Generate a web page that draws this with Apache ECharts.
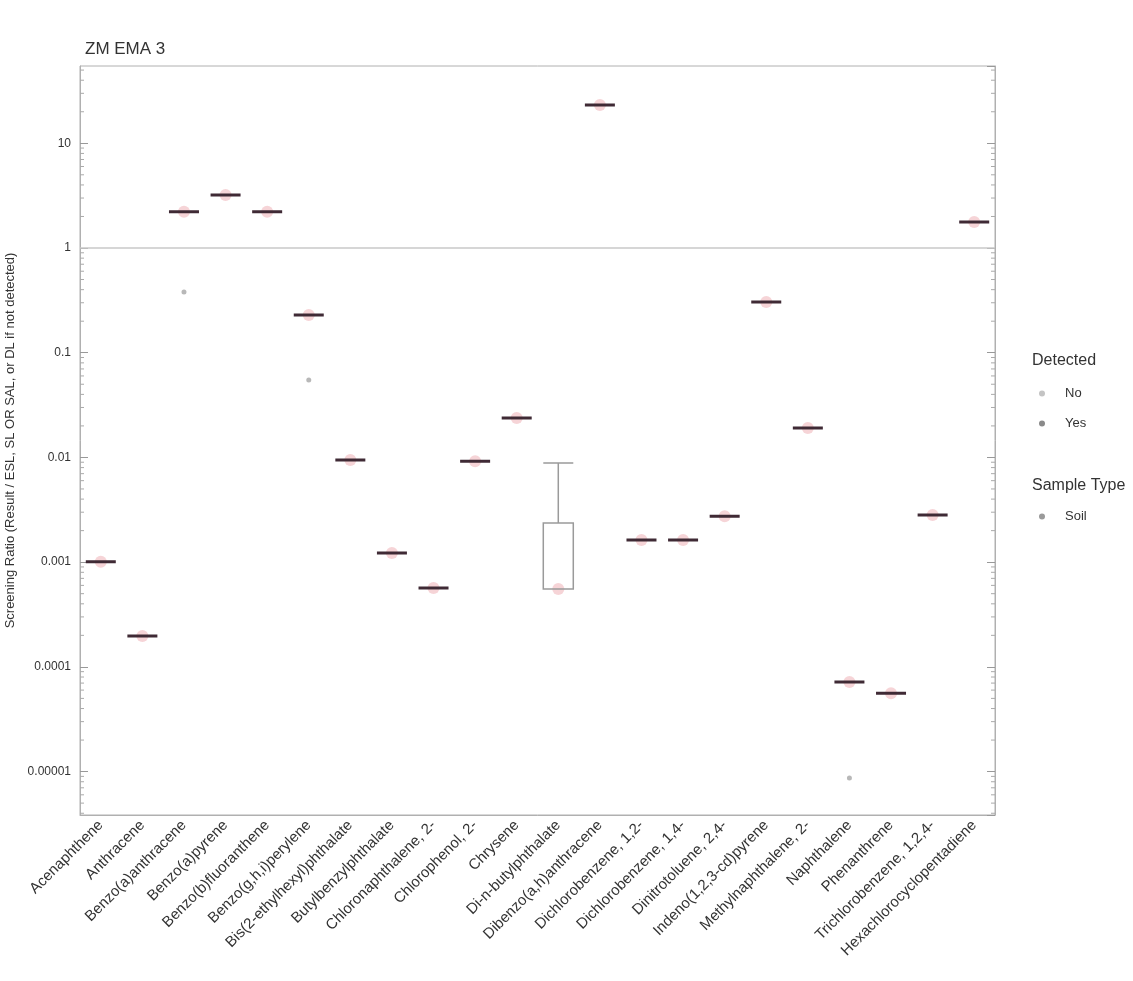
<!DOCTYPE html>
<html>
<head>
<meta charset="utf-8">
<script src="https://cdn.jsdelivr.net/npm/echarts@6/dist/echarts.min.js"></script>
<style>html,body{margin:0;padding:0;background:#fff}#c{width:1133px;height:981px}</style>
</head>
<body>
<div id="c"></div>
<script>
// ---- data ----
const titleText = 'ZM EMA 3';
const yAxisName = 'Screening Ratio (Result / ESL, SL OR SAL, or DL if not detected)';
const categories = [
  'Acenaphthene', 'Anthracene', 'Benzo(a)anthracene', 'Benzo(a)pyrene',
  'Benzo(b)fluoranthene', 'Benzo(g,h,i)perylene', 'Bis(2-ethylhexyl)phthalate',
  'Butylbenzylphthalate', 'Chloronaphthalene, 2-', 'Chlorophenol, 2-', 'Chrysene',
  'Di-n-butylphthalate', 'Dibenzo(a,h)anthracene', 'Dichlorobenzene, 1,2-',
  'Dichlorobenzene, 1,4-', 'Dinitrotoluene, 2,4-', 'Indeno(1,2,3-cd)pyrene',
  'Methylnaphthalene, 2-', 'Naphthalene', 'Phenanthrene',
  'Trichlorobenzene, 1,2,4-', 'Hexachlorocyclopentadiene'
];
// box statistics per category: [min, Q1, median, Q3, max]
const boxStats = [
  [0.00101, 0.00101, 0.00101, 0.00101, 0.00101],
  [0.000197, 0.000197, 0.000197, 0.000197, 0.000197],
  [2.22, 2.22, 2.22, 2.22, 2.22],
  [3.21, 3.21, 3.21, 3.21, 3.21],
  [2.22, 2.22, 2.22, 2.22, 2.22],
  [0.229, 0.229, 0.229, 0.229, 0.229],
  [0.00944, 0.00944, 0.00944, 0.00944, 0.00944],
  [0.00122, 0.00122, 0.00122, 0.00122, 0.00122],
  [0.000566, 0.000566, 0.000566, 0.000566, 0.000566],
  [0.0092, 0.0092, 0.0092, 0.0092, 0.0092],
  [0.0238, 0.0238, 0.0238, 0.0238, 0.0238],
  [0.000553, 0.000553, 0.000553, 0.00236, 0.00885],
  [23.2, 23.2, 23.2, 23.2, 23.2],
  [0.00163, 0.00163, 0.00163, 0.00163, 0.00163],
  [0.00163, 0.00163, 0.00163, 0.00163, 0.00163],
  [0.00275, 0.00275, 0.00275, 0.00275, 0.00275],
  [0.305, 0.305, 0.305, 0.305, 0.305],
  [0.0191, 0.0191, 0.0191, 0.0191, 0.0191],
  [0.0000716, 0.0000716, 0.0000716, 0.0000716, 0.0000716],
  [0.000056, 0.000056, 0.000056, 0.000056, 0.000056],
  [0.00282, 0.00282, 0.00282, 0.00282, 0.00282],
  [1.77, 1.77, 1.77, 1.77, 1.77]
];
// detected points: [categoryIndex, value]
const detectedYes = [
  [0, 0.00101], [1, 0.000197], [2, 2.22], [3, 3.21], [4, 2.22], [5, 0.229],
  [6, 0.00944], [7, 0.00122], [8, 0.000566], [9, 0.0092], [10, 0.0238],
  [11, 0.000553], [12, 23.2], [13, 0.00163],
  [14, 0.00163], [15, 0.00275], [16, 0.305], [17, 0.0191], [18, 0.0000716],
  [19, 0.000056], [20, 0.00282], [21, 1.77]
];
// non-detected points
const detectedNo = [[2, 0.38], [5, 0.055], [18, 0.0000087]];
const refValue = 1;
const yMin = 0.00000385, yMax = 54.7;
const minorMultipliers = [2, 3, 4, 5, 6, 7, 8, 9];

// ---- chart ----
const chart = echarts.init(document.getElementById('c'));
const FONT = 'Liberation Sans';
function fmtLog(v) {
  const l = Math.log10(v);
  if (Math.abs(l - Math.round(l)) > 1e-6) return '';
  const e = Math.round(l);
  if (e >= 0) return String(Math.pow(10, e));
  return '0.' + '0'.repeat(-e - 1) + '1';
}
const minorVals = [];
for (let e = -6; e <= 1; e++) {
  minorMultipliers.forEach(function (k) {
    const v = k * Math.pow(10, e);
    if (v > yMin && v < yMax) minorVals.push([0, v]);
  });
}
chart.setOption({
  animation: false,
  textStyle: { fontFamily: FONT },
  title: [
    { text: titleText, left: 80, top: 36, textStyle: { fontSize: 17, fontWeight: 'normal', color: '#333', fontFamily: FONT } },
    { text: 'Detected', left: 1027, top: 348, textStyle: { fontSize: 16, fontWeight: 'normal', color: '#333', fontFamily: FONT } },
    { text: 'Sample Type', left: 1027, top: 473, textStyle: { fontSize: 16, fontWeight: 'normal', color: '#333', fontFamily: FONT } }
  ],
  legend: [
    { data: [
        { name: 'No', icon: 'circle', itemStyle: { color: '#c4c4c4', opacity: 1 } },
        { name: 'Yes', icon: 'circle', itemStyle: { color: '#8a8a8a', opacity: 1 } }
      ],
      orient: 'vertical', left: 1034, top: 382, itemWidth: 36, itemHeight: 6, itemGap: 17,
      textStyle: { fontSize: 13, color: '#333', fontFamily: FONT } },
    { data: [{ name: 'Soil', icon: 'circle', itemStyle: { color: '#9a9a9a', opacity: 1, borderWidth: 0 } }],
      orient: 'vertical', left: 1034, top: 505, itemWidth: 36, itemHeight: 6,
      textStyle: { fontSize: 13, color: '#333', fontFamily: FONT } }
  ],
  grid: { show: true, borderColor: '#b0b0b0', borderWidth: 1, left: 80, right: 138, top: 66, bottom: 166, outerBoundsMode: 'none', containLabel: false },
  xAxis: {
    type: 'category', data: categories,
    axisLine: { lineStyle: { color: '#b0b0b0' } },
    axisTick: { show: false },
    axisLabel: { rotate: 45, fontSize: 15, color: '#333', margin: 8, interval: 0, fontFamily: FONT },
    splitLine: { show: false }
  },
  yAxis: [
    {
      type: 'log', logBase: 10, min: yMin, max: yMax,
      name: yAxisName, nameLocation: 'middle', nameGap: 60, nameRotate: 90,
      nameTextStyle: { fontSize: 13, color: '#333', fontFamily: FONT },
      axisLine: { show: true, lineStyle: { color: '#b0b0b0' } },
      axisTick: { show: true, inside: true, length: 8, lineStyle: { color: '#999' } },
      axisLabel: { formatter: fmtLog, fontSize: 12, color: '#333', margin: 9, showMinLabel: false, showMaxLabel: false, fontFamily: FONT },
      splitLine: { show: false }
    },
    {
      type: 'log', logBase: 10, min: yMin, max: yMax, position: 'right',
      axisLine: { show: true, lineStyle: { color: '#b0b0b0' } },
      axisTick: { show: true, inside: true, length: 8, lineStyle: { color: '#999' } },
      axisLabel: { show: false },
      splitLine: { show: false }
    }
  ],
  series: [
    {
      name: 'minor', type: 'custom', silent: true, data: minorVals, z: 1,
      renderItem: function (params, api) {
        const cs = params.coordSys;
        const y = api.coord([0, api.value(1)])[1];
        return {
          type: 'group', children: [
            { type: 'line', shape: { x1: cs.x, y1: y, x2: cs.x + 4, y2: y }, style: { stroke: '#aaa', lineWidth: 1 } },
            { type: 'line', shape: { x1: cs.x + cs.width - 4, y1: y, x2: cs.x + cs.width, y2: y }, style: { stroke: '#aaa', lineWidth: 1 } }
          ]
        };
      }
    },
    {
      name: 'Yes', type: 'scatter', data: detectedYes, symbolSize: 12, z: 2,
      itemStyle: { color: '#e0707a', opacity: 0.3 },
      markLine: {
        silent: true, symbol: 'none', label: { show: false },
        lineStyle: { color: '#c8c8c8', width: 1.5, type: 'solid' },
        data: [{ yAxis: refValue }]
      }
    },
    {
      name: 'No', type: 'scatter', data: detectedNo, symbolSize: 5, z: 2,
      itemStyle: { color: '#b0b0b0', opacity: 0.9 }
    },
    {
      name: 'Soil', type: 'boxplot', data: boxStats, boxWidth: [30, 30], z: 3,
      itemStyle: { color: 'rgba(255,255,255,0)', borderColor: '#3f2a35', borderWidth: 3 },
      emphasis: { disabled: true }
    }
  ]
});
// style the box that has a spread with a thinner grey outline
chart.setOption({
  series: [{}, {}, {}, {
    data: boxStats.map(function (b) {
      if (b[0] !== b[4]) return { value: b, itemStyle: { borderColor: '#9a9a9a', borderWidth: 1.5 } };
      return b;
    })
  }]
});
</script>
</body>
</html>
